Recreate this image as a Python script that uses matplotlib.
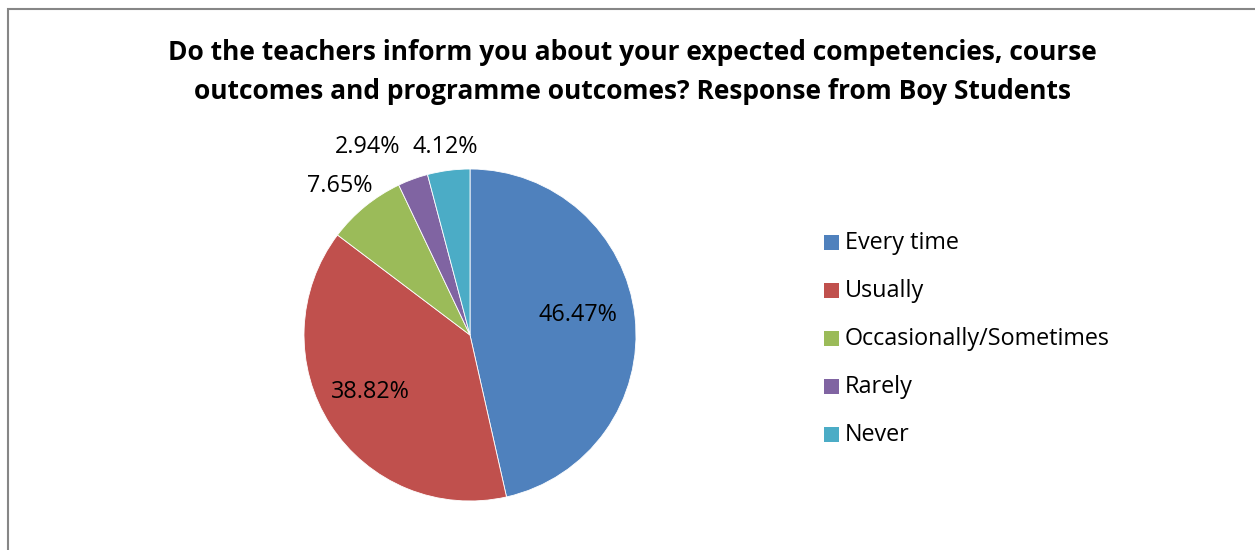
import numpy as np
import matplotlib
matplotlib.use("Agg")
import matplotlib.pyplot as plt
from matplotlib.patches import Rectangle

categories = ["Every time", "Usually", "Occasionally/Sometimes", "Rarely", "Never"]
values = [46.47, 38.82, 7.65, 2.94, 4.12]
colors = ["#4F81BD", "#C0504D", "#9BBB59", "#8064A2", "#4BACC6"]
title = ("Do the teachers inform you about your expected competencies, course\n"
         "outcomes and programme outcomes? Response from Boy Students")

plt.rcParams['font.family'] = ['Open Sans', 'DejaVu Sans']

W, H = 1255, 550
fig = plt.figure(figsize=(W / 100, H / 100), dpi=100)

# chart frame (left and top edges visible)
fig.patches.append(Rectangle((8 / W, -0.1), 1.2, (H - 8.5) / H + 0.1, transform=fig.transFigure,
                             fill=False, edgecolor="#868686", linewidth=1.5))

cx, cy, r = 470, 335, 166
ax = fig.add_axes([(cx - r) / W, 1 - (cy + r) / H, 2 * r / W, 2 * r / H])
wedges, _ = ax.pie(values, colors=colors, startangle=90, counterclock=False,
                   radius=1.0, wedgeprops=dict(edgecolor="white", linewidth=0.6))
ax.set_xlim(-1, 1)
ax.set_ylim(-1, 1)
ax.set_aspect("equal")
ax.axis("off")

# label placement: (distance in radii, angle offset in degrees)
placement = [(0.66, 4.2), (0.69, -3.0), (1.19, 2.0), (1.29, 8.4), (1.14, 0.0)]
for w, v, (d, off) in zip(wedges, values, placement):
    ang = np.deg2rad((w.theta1 + w.theta2) / 2 + off)
    ax.text(d * np.cos(ang), d * np.sin(ang), f"{v:.2f}%", ha="center", va="center",
            fontsize=16.8, color="black", clip_on=False)

fig.text(632 / W, 1 - 72 / H, title, ha="center", va="center", fontsize=19,
         fontweight="bold", linespacing=1.58)

# legend
ys = [242, 290, 338, 386, 434]
for c, lab, y in zip(colors, categories, ys):
    fig.patches.append(Rectangle((824 / W, 1 - (y + 7.5) / H), 15 / W, 15 / H,
                                 transform=fig.transFigure, facecolor=c, edgecolor="none"))
    fig.text(845 / W, 1 - (y + 1) / H, lab, ha="left", va="center", fontsize=16.8, color="black")

fig.savefig("out.png", dpi=100, facecolor="white")
